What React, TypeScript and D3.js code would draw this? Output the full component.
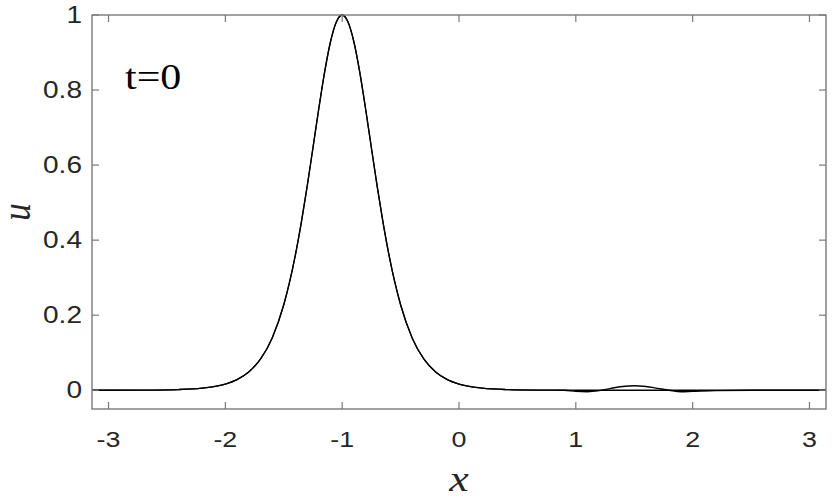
import React from "react";
import * as d3 from "d3";

const xGrid = [
  -3.1416, -2.7, -2.4, -2.2, -2.0, -1.9, -1.8, -1.7, -1.6, -1.5, -1.45, -1.4, -1.35, -1.3, -1.25,
  -1.2, -1.15, -1.1, -1.05, -1.0, -0.95, -0.9, -0.85, -0.8, -0.75, -0.7, -0.65, -0.6, -0.55,
  -0.5, -0.4, -0.3, -0.2, -0.1, 0.0, 0.2, 0.4, 0.7, 0.9, 1.0, 1.1, 1.2, 1.3, 1.4, 1.5, 1.6,
  1.7, 1.8, 1.9, 2.0, 2.2, 2.5, 3.1416,
];
const uExact = [
  0, 0.0004, 0.0019, 0.0056, 0.0165, 0.0284, 0.0487, 0.0827, 0.1388, 0.2279, 0.2886, 0.3615,
  0.4467, 0.5428, 0.6463, 0.7508, 0.8485, 0.9287, 0.9814, 1.0, 0.9814, 0.9287, 0.8485, 0.7508,
  0.6463, 0.5428, 0.4467, 0.3615, 0.2886, 0.2279, 0.1388, 0.0827, 0.0487, 0.0284, 0.0165,
  0.0056, 0.0019, 0.0004, 0.0001, 0, 0, 0, 0, 0, 0, 0, 0, 0, 0, 0, 0, 0, 0,
];
const uNumeric = [
  0, 0.0004, 0.0019, 0.0056, 0.0165, 0.0284, 0.0487, 0.0827, 0.1388, 0.2279, 0.2886, 0.3615,
  0.4467, 0.5428, 0.6463, 0.7508, 0.8485, 0.9287, 0.9814, 1.0, 0.9814, 0.9287, 0.8485, 0.7508,
  0.6463, 0.5428, 0.4467, 0.3615, 0.2886, 0.2279, 0.1388, 0.0827, 0.0487, 0.0284, 0.0165,
  0.0056, 0.0019, 0.0004, 0.0, -0.003, -0.004, -0.001, 0.005, 0.01, 0.012, 0.01, 0.005, 0.0,
  -0.004, -0.003, -0.001, 0, 0,
];
const xTicks = [-3, -2, -1, 0, 1, 2, 3];
const yTicks = [0, 0.2, 0.4, 0.6, 0.8, 1];
const annotation = "t=0";
const xLabel = "x";
const yLabel = "u";

const W = 839;
const H = 500;
const L = 92, R = 826, T = 15, B = 409;
const SX = 1.22;

export default function App() {
  const x = d3.scaleLinear().domain([-Math.PI, Math.PI]).range([L, R]);
  const y = d3.scaleLinear().domain([-0.05, 1]).range([B, T]);
  const line = (vals: number[]) =>
    d3
      .line<number>()
      .x((_, i) => x(xGrid[i]))
      .y((d) => y(d))
      .curve(d3.curveMonotoneX)(vals) || "";
  const axisColor = "#7a7a7a";
  const textColor = "#262626";
  const tickLen = 7;
  const fmt = (v: number) => (v === 0 || v === 1 ? String(v) : v.toFixed(1));
  return (
    <svg
      width={W}
      height={H}
      style={{ position: "absolute", left: 0, top: 0, background: "#fff" }}
    >
      <rect x={0} y={0} width={W} height={H} fill="#fff" />
      <path d={line(uExact)} fill="none" stroke="#000" strokeWidth={1.3} />
      <path d={line(uNumeric)} fill="none" stroke="#000" strokeWidth={1.3} />
      <rect x={L} y={T} width={R - L} height={B - T} fill="none" stroke={axisColor} strokeWidth={1.4} />
      {xTicks.map((t) => (
        <g key={"x" + t}>
          <line x1={x(t)} x2={x(t)} y1={B} y2={B - tickLen} stroke={axisColor} strokeWidth={1.2} />
          <line x1={x(t)} x2={x(t)} y1={T} y2={T + tickLen} stroke={axisColor} strokeWidth={1.2} />
          <text
            transform={`translate(${x(t)},447) scale(${SX},1)`}
            textAnchor="middle"
            fontFamily="Liberation Sans, Arial, sans-serif"
            fontSize={22}
            fill={textColor}
          >
            {String(t)}
          </text>
        </g>
      ))}
      {yTicks.map((t) => (
        <g key={"y" + t}>
          <line x1={L} x2={L + tickLen} y1={y(t)} y2={y(t)} stroke={axisColor} strokeWidth={1.2} />
          <line x1={R} x2={R - tickLen} y1={y(t)} y2={y(t)} stroke={axisColor} strokeWidth={1.2} />
          <text
            transform={`translate(82,${y(t) + 8.2}) scale(${SX},1)`}
            textAnchor="end"
            fontFamily="Liberation Sans, Arial, sans-serif"
            fontSize={23}
            fill={textColor}
          >
            {fmt(t)}
          </text>
        </g>
      ))}
      <text
        transform={`translate(125,89) scale(1.2,1)`}
        fontFamily="Liberation Serif, Times New Roman, serif"
        fontSize={35}
        fill="#000"
      >
        {annotation}
      </text>
      <text
        transform={`translate(459,491) scale(${SX},1)`}
        textAnchor="middle"
        fontFamily="Liberation Serif, Times New Roman, serif"
        fontStyle="italic"
        fontSize={36}
        fill={textColor}
      >
        {xLabel}
      </text>
      <text
        transform={`translate(30,212) scale(${SX},1) rotate(-90)`}
        textAnchor="middle"
        fontFamily="Liberation Serif, Times New Roman, serif"
        fontStyle="italic"
        fontSize={35}
        fill={textColor}
      >
        {yLabel}
      </text>
    </svg>
  );
}
